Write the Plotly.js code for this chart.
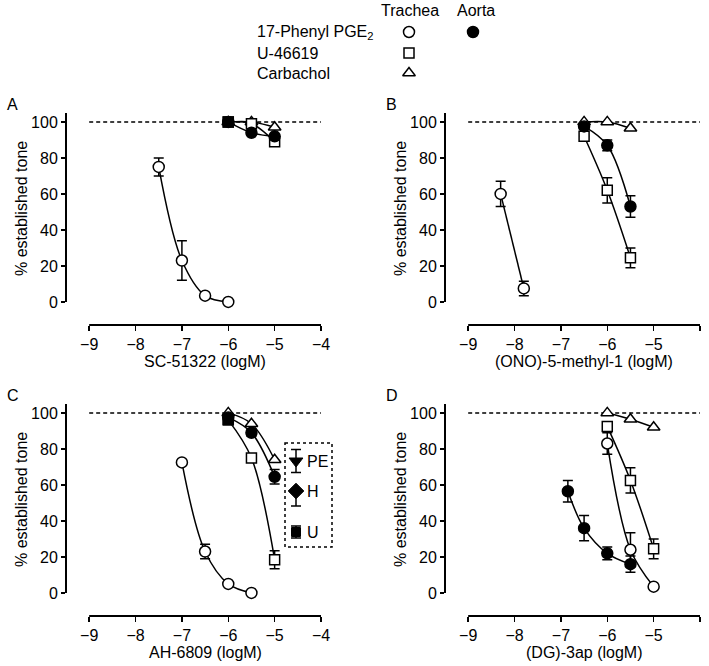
<!DOCTYPE html>
<html>
<head>
<meta charset="utf-8">
<script src="https://cdn.plot.ly/plotly-3.0.1.min.js"></script>
<style>
  html, body { margin: 0; padding: 0; background: #fff; }
  #chart { width: 709px; height: 666px; }
</style>
</head>
<body>
<div id="chart"></div>
<script>
// log concentrations and % established tone
// Panel A: SC-51322
const aTrPgeX = [-7.5, -7, -6.5, -6];
const aTrPgeY = [75, 23, 3.5, 0];
const aTrPgeE = [5, 11, 0, 0];
const aAoPgeX = [-6, -5.5, -5];
const aAoPgeY = [100, 94, 92];
const aUX = [-6, -5.5, -5];
const aUY = [100, 99, 89];
const aCarbX = [-6, -5.5, -5];
const aCarbY = [100, 100, 97];
const aAoUX = [-6];
const aAoUY = [100];

// Panel B: (ONO)-5-methyl-1
const bTrPgeX = [-8.3, -7.8];
const bTrPgeY = [60, 7.5];
const bTrPgeE = [7, 4];
const bAoPgeX = [-6.5, -6, -5.5];
const bAoPgeY = [97.5, 87, 53];
const bAoPgeE = [0, 3, 6];
const bUX = [-6.5, -6, -5.5];
const bUY = [92, 62, 24.5];
const bUE = [0, 7, 5.5];
const bCarbX = [-6.5, -6, -5.5];
const bCarbY = [100, 100, 96.5];

// Panel C: AH-6809
const cTrPgeX = [-7, -6.5, -6, -5.5];
const cTrPgeY = [72.5, 23, 5, 0];
const cTrPgeE = [0, 4, 0, 0];
const cAoPgeX = [-6, -5.5, -5];
const cAoPgeY = [97.5, 89, 64.5];
const cAoPgeE = [0, 2, 4];
const cUX = [-6, -5.5, -5];
const cUY = [96, 75, 18.5];
const cUE = [0, 0, 5];
const cCarbX = [-6, -5.5, -5];
const cCarbY = [100, 94, 74];
const cAoUX = [-6];
const cAoUY = [96.5];

// Panel D: (DG)-3ap
const dAoPgeX = [-6.85, -6.5, -6, -5.5];
const dAoPgeY = [56.5, 36, 22, 16];
const dAoPgeE = [6, 7, 3.5, 4.5];
const dTrPgeX = [-6, -5.5, -5];
const dTrPgeY = [83, 24, 3.5];
const dTrPgeE = [6, 9.5, 0];
const dUX = [-6, -5.5, -5];
const dUY = [92.5, 62.5, 24.5];
const dUE = [0, 7, 5.5];
const dCarbX = [-6, -5.5, -5];
const dCarbY = [100, 96.5, 92];

const xTitles = ['SC-51322 (logM)', '(ONO)-5-methyl-1 (logM)', 'AH-6809 (logM)', '(DG)-3ap (logM)'];
const panelLetters = ['A', 'B', 'C', 'D'];
const xTicks = [-9, -8, -7, -6, -5, -4];
const yTicks = [0, 20, 40, 60, 80, 100];

const FONT = 'Arial, "Liberation Sans", sans-serif';

function series(ax, x, y, e, symbol, filled, opts) {
  opts = opts || {};
  const t = {
    x: x, y: y, type: 'scatter',
    mode: opts.noLine ? 'markers' : 'lines+markers',
    xaxis: 'x' + ax, yaxis: 'y' + ax,
    line: { color: 'black', width: 1.5, shape: 'spline', smoothing: 1 },
    marker: {
      symbol: symbol, size: opts.size || 11, opacity: 1,
      color: filled ? 'black' : 'white',
      line: { color: 'black', width: 1.5 }
    },
    cliponaxis: false,
    hoverinfo: 'skip'
  };
  if (e) {
    t.error_y = { type: 'data', array: e, visible: true, color: 'black', thickness: 1.5, width: 5 };
  }
  return t;
}

const traces = [
  // A
  series('', aCarbX, aCarbY, null, 'triangle-up', false),
  series('', aUX, aUY, null, 'square', false, { size: 10 }),
  series('', aAoPgeX, aAoPgeY, null, 'circle', true),
  series('', aAoUX, aAoUY, null, 'square', true, { size: 10, noLine: true }),
  series('', aTrPgeX, aTrPgeY, aTrPgeE, 'circle', false),
  // B
  series('2', bCarbX, bCarbY, null, 'triangle-up', false),
  series('2', bUX, bUY, bUE, 'square', false, { size: 10 }),
  series('2', bAoPgeX, bAoPgeY, bAoPgeE, 'circle', true),
  series('2', bTrPgeX, bTrPgeY, bTrPgeE, 'circle', false),
  // C
  series('3', cCarbX, cCarbY, null, 'triangle-up', false),
  series('3', cUX, cUY, cUE, 'square', false, { size: 10 }),
  series('3', cAoPgeX, cAoPgeY, cAoPgeE, 'circle', true),
  series('3', cAoUX, cAoUY, null, 'square', true, { size: 10, noLine: true }),
  series('3', cTrPgeX, cTrPgeY, cTrPgeE, 'circle', false),
  // D
  series('4', dCarbX, dCarbY, null, 'triangle-up', false),
  series('4', dUX, dUY, dUE, 'square', false, { size: 10 }),
  series('4', dTrPgeX, dTrPgeY, dTrPgeE, 'circle', false),
  series('4', dAoPgeX, dAoPgeY, dAoPgeE, 'circle', true)
];

// overlay axis in pixel units for the top legend and the PE/H/U key
const legendX = [409, 473, 409, 409];
const legendY = [32, 32, 53, 73];
const legendSym = ['circle', 'circle', 'square', 'triangle-up'];
const legendFill = ['white', 'black', 'white', 'white'];
traces.push({
  x: legendX, y: legendY, type: 'scatter', mode: 'markers',
  xaxis: 'x5', yaxis: 'y5', hoverinfo: 'skip', cliponaxis: false,
  marker: { symbol: legendSym, size: [11, 11, 10, 11], opacity: 1, color: legendFill, line: { color: 'black', width: 1.5 } }
});
const keyX = [296, 296, 296];
const keyY = [461, 491, 532];
traces.push({
  x: keyX, y: keyY, type: 'scatter', mode: 'markers',
  xaxis: 'x5', yaxis: 'y5', hoverinfo: 'skip', cliponaxis: false,
  marker: { symbol: ['triangle-down', 'diamond', 'square'], size: [12, 12, 9], opacity: 1, color: 'black', line: { color: 'black', width: 1 } },
  error_y: { type: 'data', symmetric: false, array: [11.5, 15, 6], arrayminus: [11.5, 0, 6], visible: true, color: 'black', thickness: 1.5, width: 5 }
});

const domX = [[66 / 709, 321 / 709], [445 / 709, 700 / 709]];
const domY = [[1 - 325 / 666, 1 - 112 / 666], [1 - 616 / 666, 1 - 403 / 666]];

const layout = {
  width: 709, height: 666,
  margin: { l: 0, r: 0, t: 0, b: 0 },
  paper_bgcolor: 'white', plot_bgcolor: 'rgba(0,0,0,0)',
  showlegend: false,
  font: { family: FONT, size: 16, color: 'black' },
  shapes: [], annotations: []
};

for (let i = 0; i < 4; i++) {
  const s = i === 0 ? '' : String(i + 1);
  const col = i % 2, row = Math.floor(i / 2);
  layout['xaxis' + s] = {
    domain: domX[col], range: [-9.5, -4], anchor: 'y' + s,
    tickvals: xTicks, ticks: 'outside', ticklen: 5, tickwidth: 1.5, tickcolor: 'black',
    showline: false, zeroline: false, showgrid: false, fixedrange: true,
    tickfont: { family: FONT, size: 16 }
  };
  layout['yaxis' + s] = {
    domain: domY[row], range: [-12.8, 105.5], anchor: 'x' + s,
    tickvals: yTicks, ticks: 'outside', ticklen: 4, tickwidth: 1.5, tickcolor: 'black',
    showline: false, zeroline: false, showgrid: false, fixedrange: true,
    tickfont: { family: FONT, size: 16 }
  };
  const xr = 'x' + s, yr = 'y' + s;
  // y axis line (0 to ~105), x axis line (-9 to -4), dashed 100% line
  layout.shapes.push({ type: 'line', xref: xr + ' domain', yref: yr, x0: 0, x1: 0, y0: 0, y1: 105, line: { color: 'black', width: 2 } });
  layout.shapes.push({ type: 'line', xref: xr, yref: yr + ' domain', x0: -9, x1: -4, y0: 0, y1: 0, line: { color: 'black', width: 2 } });
  layout.shapes.push({ type: 'line', xref: xr, yref: yr, x0: -9, x1: -4, y0: 100, y1: 100, layer: 'below', line: { color: 'black', width: 1.5, dash: '4px,3px' } });

  const left = col === 0 ? 66 : 445;
  const top = row === 0 ? 112 : 403;
  const axisLine = row === 0 ? 325 : 616;
  layout.annotations.push({
    text: '% established tone', xref: 'x5', yref: 'y5', x: left - 45, y: (top + axisLine - 23) / 2 + 2,
    textangle: -90, showarrow: false, xanchor: 'center', yanchor: 'middle', font: { size: 16 }
  });
  layout.annotations.push({
    text: xTitles[i], xref: 'x5', yref: 'y5', x: left + 23 + 116, y: axisLine + 36,
    showarrow: false, xanchor: 'center', yanchor: 'middle', font: { size: 16 }
  });
  layout.annotations.push({
    text: panelLetters[i], xref: 'x5', yref: 'y5', x: left - 61, y: top - 8,
    showarrow: false, xanchor: 'left', yanchor: 'middle', font: { size: 16 }
  });
}

layout.xaxis5 = { domain: [0, 1], range: [0, 709], anchor: 'y5', visible: false, fixedrange: true };
layout.yaxis5 = { domain: [0, 1], range: [666, 0], anchor: 'x5', visible: false, fixedrange: true };

// top legend text
const legendRows = ['17-Phenyl PGE<sub>2</sub>', 'U-46619', 'Carbachol'];
const legendRowY = [32, 53, 73];
legendRows.forEach((t, k) => {
  layout.annotations.push({ text: t, xref: 'x5', yref: 'y5', x: 255, y: legendRowY[k], showarrow: false, xanchor: 'left', yanchor: 'middle', font: { size: 16 } });
});
layout.annotations.push({ text: 'Trachea', xref: 'x5', yref: 'y5', x: 410, y: 10, showarrow: false, xanchor: 'center', yanchor: 'middle', font: { size: 16 } });
layout.annotations.push({ text: 'Aorta', xref: 'x5', yref: 'y5', x: 476, y: 10, showarrow: false, xanchor: 'center', yanchor: 'middle', font: { size: 16 } });

// key box in panel C
layout.shapes.push({ type: 'rect', xref: 'x5', yref: 'y5', x0: 285, x1: 332, y0: 443, y1: 547, line: { color: 'black', width: 1.5, dash: 'dot' } });
['PE', 'H', 'U'].forEach((t, k) => {
  layout.annotations.push({ text: t, xref: 'x5', yref: 'y5', x: 305, y: keyY[k], showarrow: false, xanchor: 'left', yanchor: 'middle', font: { size: 16 } });
});

Plotly.newPlot('chart', traces, layout, { displayModeBar: false, staticPlot: true });
</script>
</body>
</html>
